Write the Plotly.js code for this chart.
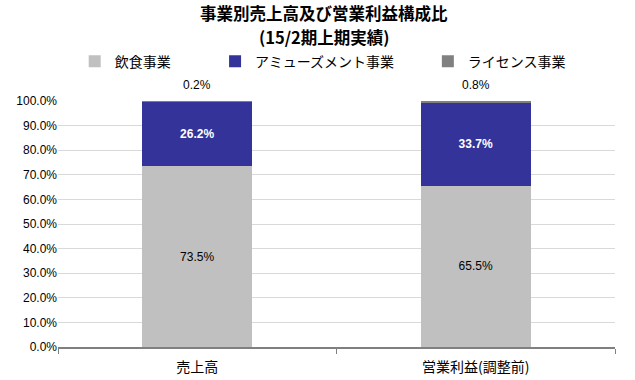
<!DOCTYPE html>
<html><head><meta charset="utf-8">
<script src="https://cdn.plot.ly/plotly-3.0.1.min.js"></script>
<style>body{margin:0;background:#fff}#c{width:635px;height:380px}</style>
</head><body><div id="c"></div>
<script>
const categories = ["売上高", "営業利益(調整前)"];
const food = [73.5, 65.5];
const amusement = [26.2, 33.7];
const license = [0.2, 0.8];
const seriesNames = ["飲食事業", "アミューズメント事業", "ライセンス事業"];
const yTicks = [0,10,20,30,40,50,60,70,80,90,100];
const titleLines = ["事業別売上高及び営業利益構成比", "(15/2期上期実績)"];

const jp = '"Noto Sans CJK JP", "Liberation Sans", Arial, sans-serif';
const num = '"Liberation Sans", Arial, sans-serif';

const fmt = v => v.toFixed(1) + '%';

const traces = [
  {type:'bar', x:categories, y:food, name:seriesNames[0], marker:{color:'#C0C0C0'},
   text:food.map(fmt), textposition:'inside', insidetextanchor:'middle', textangle:0,
   textfont:{family:num, size:12, color:'#000'}, legend:'legend', hoverinfo:'none'},
  {type:'bar', x:categories, y:amusement, name:seriesNames[1], marker:{color:'#333399'},
   text:amusement.map(fmt), textposition:'inside', insidetextanchor:'middle', textangle:0,
   textfont:{family:num, size:12, color:'#fff', weight:'bold'}, legend:'legend2', hoverinfo:'none'},
  {type:'bar', x:categories, y:license, name:seriesNames[2], marker:{color:'#808080'},
   textposition:'none', legend:'legend3', hoverinfo:'none'}
];

const annotations = categories.map((c,i)=>({
  x:c, y:food[i]+amusement[i]+license[i], xref:'x', yref:'y', yanchor:'bottom',
  yshift:7, showarrow:false, text:fmt(license[i]), font:{family:num, size:12, color:'#000'}
}));
annotations.push({x:0.4776, y:1.358, xref:'paper', yref:'paper', xanchor:'center', yanchor:'middle',
  showarrow:false, text:'<b>'+titleLines[0]+'</b>', font:{family:jp, size:16.5, color:'#000'}});
annotations.push({x:0.4776, y:1.26, xref:'paper', yref:'paper', xanchor:'center', yanchor:'middle',
  showarrow:false, text:'<b>'+titleLines[1]+'</b>', font:{family:jp, size:16.5, color:'#000'}});

const legBase = {orientation:'h', xref:'paper', yref:'paper', yanchor:'middle', y:1.16,
  font:{family:jp, size:14, color:'#000'}, bgcolor:'rgba(0,0,0,0)', itemwidth:30};

const layout = {
  width:635, height:380,
  margin:{l:58, r:20, t:101, b:33},
  paper_bgcolor:'#fff', plot_bgcolor:'#fff',
  barmode:'stack', bargap:0.605,
  xaxis:{type:'category', tickson:'boundaries', ticks:'outside', ticklen:5, tickcolor:'#808080',
    showline:true, linecolor:'#808080', linewidth:2, showgrid:false, ticklabelstandoff:6,
    tickfont:{family:jp, size:14, color:'#000'}},
  yaxis:{range:[0,100], tickvals:yTicks, ticktext:yTicks.map(v=>v.toFixed(1)+'%'),
    showgrid:true, gridcolor:'#D9D9D9', gridwidth:1, zeroline:false, showline:false,
    ticks:'', tickfont:{family:num, size:12, color:'#000'}},
  legend:Object.assign({}, legBase, {x:0.03, xanchor:'left'}),
  legend2:Object.assign({}, legBase, {x:0.282, xanchor:'left'}),
  legend3:Object.assign({}, legBase, {x:0.664, xanchor:'left'}),
  annotations:annotations,
  showlegend:true
};

Plotly.newPlot('c', traces, layout, {displayModeBar:false, staticPlot:true});
</script></body></html>
